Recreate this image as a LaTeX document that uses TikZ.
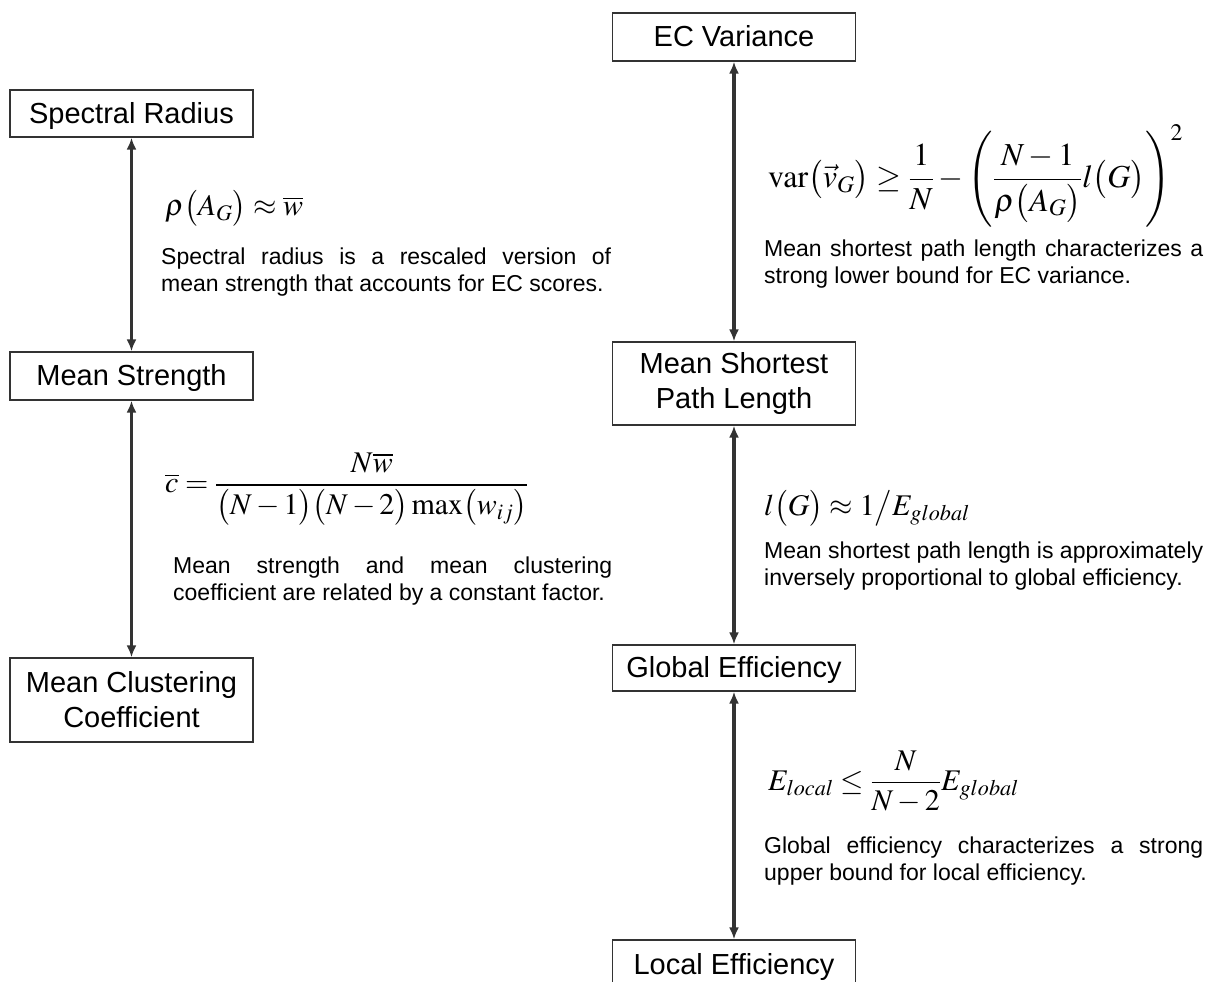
\documentclass[tikz,border=0pt]{standalone}
\usepackage{amsmath}
\usepackage{mathptmx}
\usepackage[no-math]{fontspec}
\setmainfont{Liberation Sans}
\usetikzlibrary{arrows.meta}
\definecolor{ink}{HTML}{333333}
\begin{document}
\begin{tikzpicture}[x=1pt,y=-1pt,
  box/.style={draw=ink, line width=1.3pt, fill=white, minimum width=243pt, inner sep=0pt,
    font=\fontsize{29}{35}\selectfont, align=center, text=black},
  onebox/.style={box, text height=21pt, text depth=2pt},
  link/.style={{Latex[length=12pt,width=10pt]}-{Latex[length=12pt,width=10pt]}, line width=3.3pt, draw=ink},
  formula/.style={anchor=west, inner sep=0pt, font=\fontsize{30}{36}\selectfont},
  note/.style={anchor=west, inner sep=0pt, align=left, font=\fontsize{23}{27}\selectfont}]
\useasboundingbox (0,0) rectangle (1216,982);

% left column
\node[onebox, minimum height=47pt] (sr) at (131.5,113.5) {Spectral Radius};
\node[onebox, minimum height=48pt] (ms) at (131.5,376) {Mean Strength};
\node[box, minimum height=84pt] (mcc) at (131.5,700) {Mean Clustering\\Coefficient};
\draw[link] (sr) -- (ms);
\draw[link] (ms) -- (mcc);

\node[formula] (f1) at (165,208) {$\rho\bigl(A_G\bigr)\approx\overline{w}$};
\node[note] (t1) at (161,272) {\makebox[450pt][s]{Spectral radius is a rescaled version of}\\mean strength that accounts for EC scores.};
\node[formula] (f2) at (165,489) {$\overline{c}=\dfrac{N\overline{w}}{\bigl(N-1\bigr)\bigl(N-2\bigr)\max\bigl(w_{ij}\bigr)}$};
\node[note] (t2) at (173,581) {\makebox[439pt][s]{Mean strength and mean clustering}\\coefficient are related by a constant factor.};

% right column
\node[onebox, minimum height=48pt] (ecv) at (734,37) {EC Variance};
\node[box, minimum height=83pt] (mspl) at (734,383.5) {Mean Shortest\\Path Length};
\node[onebox, minimum height=46pt] (ge) at (734,668) {Global Efficiency};
\node[onebox, minimum height=50pt] (le) at (734,965) {Local Efficiency};
\draw[link] (ecv) -- (mspl);
\draw[link] (mspl) -- (ge);
\draw[link] (ge) -- (le);

\node[formula, font=\fontsize{32}{38}\selectfont] (f3) at (768,176) {$\operatorname{var}\bigl(\vec{v}_G\bigr)\geq\dfrac{1}{N}-\left(\dfrac{N-1}{\rho\bigl(A_G\bigr)}l\bigl(G\bigr)\right)^{2}$};
\node[note] (t3) at (764,264) {\makebox[439pt][s]{Mean shortest path length characterizes a}\\strong lower bound for EC variance.};
\node[formula] (f4) at (764,508) {$l\bigl(G\bigr)\approx 1\big/E_{global}$};
\node[note] (t4) at (764,566) {\makebox[439pt][s]{Mean shortest path length is approximately}\\inversely proportional to global efficiency.};
\node[formula] (f5) at (768,782) {$E_{local}\leq\dfrac{N}{N-2}E_{global}$};
\node[note] (t5) at (764,861) {\makebox[439pt][s]{Global efficiency characterizes a strong}\\upper bound for local efficiency.};
\end{tikzpicture}
\end{document}
